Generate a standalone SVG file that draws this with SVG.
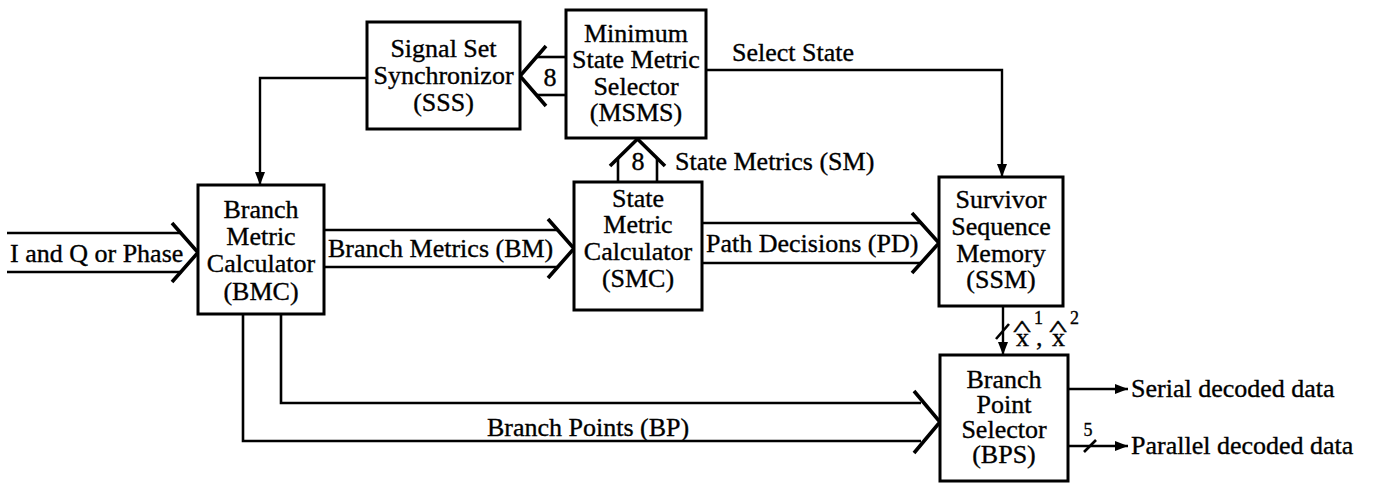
<svg xmlns="http://www.w3.org/2000/svg" width="1375" height="483" viewBox="0 0 1375 483">
  <style>
    .box { fill: #fff; stroke: #000; stroke-width: 3; }
    .ln { fill: none; stroke: #000; stroke-width: 2.6; }
    .chev { fill: none; stroke: #000; stroke-width: 3.6; stroke-linejoin: miter; }
    .arr { fill: none; stroke: #000; stroke-width: 2.4; marker-end: url(#head); }
    text { font-family: "Liberation Serif", "Times New Roman", serif; font-size: 26px; fill: #000; stroke: #000; stroke-width: 0.35; }
    .c { text-anchor: middle; }
    .sm { font-size: 18px; }
    .hat { font-size: 24px; text-anchor: middle; }
  </style>
  <defs>
    <marker id="head" markerUnits="userSpaceOnUse" markerWidth="14" markerHeight="10" refX="13" refY="5" orient="auto">
      <path d="M0,0 L13,5 L0,10 z" fill="#000"/>
    </marker>
  </defs>

  <!-- connectors -->
  <g id="connectors">
    <!-- I and Q or Phase input bus -->
    <g id="bus-input">
      <line class="ln" x1="7" y1="233" x2="182" y2="233"/>
      <line class="ln" x1="7" y1="272" x2="182" y2="272"/>
      <polyline class="chev" points="172,223 198,252.5 172,282"/>
      <text x="10" y="262">I and Q or Phase</text>
    </g>
    <!-- Branch Metrics bus -->
    <g id="bus-bm">
      <line class="ln" x1="324" y1="230" x2="558" y2="230"/>
      <line class="ln" x1="324" y1="267" x2="558" y2="267"/>
      <polyline class="chev" points="548,219 574,248.5 548,278"/>
      <text x="328" y="257">Branch Metrics (BM)</text>
    </g>
    <!-- Path Decisions bus -->
    <g id="bus-pd">
      <line class="ln" x1="702" y1="223" x2="922" y2="223"/>
      <line class="ln" x1="702" y1="263" x2="922" y2="263"/>
      <polyline class="chev" points="912,213 939,243 912,273"/>
      <text x="706" y="252">Path Decisions (PD)</text>
    </g>
    <!-- State Metrics bus, SMC up to MSMS -->
    <g id="bus-sm">
      <line class="ln" x1="618" y1="182" x2="618" y2="158"/>
      <line class="ln" x1="657" y1="182" x2="657" y2="158"/>
      <polyline class="chev" points="610,166 637.5,139 665,166"/>
      <text class="c" x="638" y="170">8</text>
      <text x="675" y="170">State Metrics (SM)</text>
    </g>
    <!-- MSMS to SSS bus -->
    <g id="bus-msms-sss">
      <line class="ln" x1="566" y1="57" x2="536" y2="57"/>
      <line class="ln" x1="566" y1="95" x2="536" y2="95"/>
      <polyline class="chev" points="546,46 520,76 546,106"/>
      <text class="c" x="550" y="86">8</text>
    </g>
    <!-- SSS feedback into BMC -->
    <polyline class="arr" points="367,78 260,78 260,185"/>
    <!-- Select State to SSM -->
    <polyline class="arr" points="706,70 1002,70 1002,177"/>
    <text x="732" y="61">Select State</text>
    <!-- SSM to BPS: estimated symbols x^1, x^2 -->
    <g id="bus-xhat">
      <line class="arr" x1="1003" y1="306" x2="1003" y2="355"/>
      <line class="ln" x1="996" y1="339" x2="1009" y2="324" stroke-width="3"/>
      <text font-size="22"><tspan x="1016" y="346">x</tspan><tspan x="1036" y="346">,</tspan><tspan x="1052" y="346">x</tspan><tspan x="1034" y="324" font-size="18">1</tspan><tspan x="1070" y="324" font-size="18">2</tspan></text>
      <text class="hat" x="1022" y="336" transform="translate(1022 0) scale(1.6 1) translate(-1022 0)">^</text>
      <text class="hat" x="1058" y="336" transform="translate(1058 0) scale(1.6 1) translate(-1058 0)">^</text>
    </g>
    <!-- Branch Points pair into BPS -->
    <g id="bus-bp">
      <polyline class="ln" points="243,314 243,441 921,441"/>
      <polyline class="ln" points="281,314 281,403 921,403"/>
      <polyline class="chev" points="914,391 940,422 914,453"/>
      <text x="487" y="436">Branch Points (BP)</text>
    </g>
    <!-- outputs -->
    <line class="arr" x1="1068" y1="389" x2="1128" y2="389"/>
    <text x="1131" y="397">Serial decoded data</text>
    <line class="arr" x1="1068" y1="446" x2="1128" y2="446"/>
    <line class="ln" x1="1084" y1="452" x2="1096" y2="440" stroke-width="3"/>
    <text class="c sm" x="1088" y="436">5</text>
    <text x="1131" y="454">Parallel decoded data</text>
  </g>

  <!-- blocks -->
  <g id="bmc">
    <rect class="box" x="198" y="185" width="126" height="129"/>
    <text class="c" x="261" y="218">Branch</text>
    <text class="c" x="261" y="245">Metric</text>
    <text class="c" x="261" y="272">Calculator</text>
    <text class="c" x="261" y="300">(BMC)</text>
  </g>
  <g id="sss">
    <rect class="box" x="367" y="22" width="153" height="107"/>
    <text class="c" x="443.5" y="57">Signal Set</text>
    <text class="c" x="443.5" y="84">Synchronizor</text>
    <text class="c" x="443.5" y="111">(SSS)</text>
  </g>
  <g id="msms">
    <rect class="box" x="566" y="10" width="140" height="128"/>
    <text class="c" x="636" y="42">Minimum</text>
    <text class="c" x="636" y="68">State Metric</text>
    <text class="c" x="636" y="95">Selector</text>
    <text class="c" x="636" y="121">(MSMS)</text>
  </g>
  <g id="smc">
    <rect class="box" x="574" y="182" width="128" height="128"/>
    <text class="c" x="638" y="207">State</text>
    <text class="c" x="638" y="233">Metric</text>
    <text class="c" x="638" y="260">Calculator</text>
    <text class="c" x="638" y="287">(SMC)</text>
  </g>
  <g id="ssm">
    <rect class="box" x="939" y="177" width="124" height="129"/>
    <text class="c" x="1001" y="208">Survivor</text>
    <text class="c" x="1001" y="235">Sequence</text>
    <text class="c" x="1001" y="262">Memory</text>
    <text class="c" x="1001" y="288">(SSM)</text>
  </g>
  <g id="bps">
    <rect class="box" x="940" y="355" width="128" height="126"/>
    <text class="c" x="1004" y="388">Branch</text>
    <text class="c" x="1004" y="413">Point</text>
    <text class="c" x="1004" y="438">Selector</text>
    <text class="c" x="1004" y="463">(BPS)</text>
  </g>
</svg>
